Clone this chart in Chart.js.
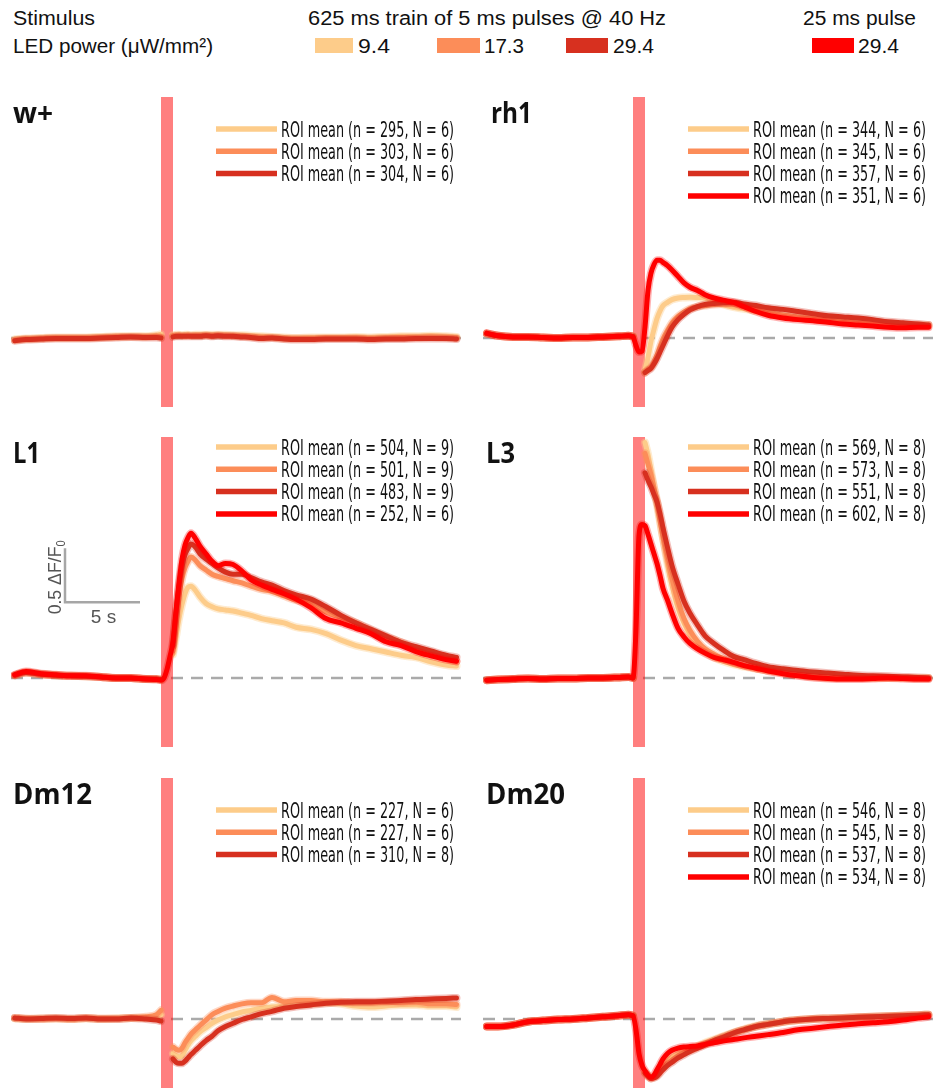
<!DOCTYPE html>
<html>
<head>
<meta charset="utf-8">
<script src="https://cdn.jsdelivr.net/npm/chart.js@4.4.1/dist/chart.umd.min.js"></script>
<style>
  html, body { margin: 0; padding: 0; background: #fff; }
  body { width: 933px; height: 1088px; position: relative; overflow: hidden;
         font-family: "Liberation Sans", Arial, sans-serif; }
  .hd { position: absolute; font-size: 20px; line-height: 20px; color: #111;
        white-space: nowrap; transform-origin: 0 0; }
  .sw { position: absolute; height: 15px; }
  canvas.panel { position: absolute; }
</style>
</head>
<body>

<div class="hd" data-x="13" data-base="25" data-w="82">Stimulus</div>
<div class="hd" data-x="13" data-base="53" data-w="200">LED power (μW/mm²)</div>
<div class="hd" data-x="308" data-base="25" data-w="358">625 ms train of 5 ms pulses @ 40 Hz</div>
<div class="hd" data-x="803" data-base="25" data-w="113">25 ms pulse</div>
<div id="swatches"></div>

<script>
// ---- time axis (s) shared by all traces ----
const TIME_S = [-9.75, -9, -8, -7, -6, -5, -4, -3, -2, -1, -0.3, 0, 0.2, 0.4, 0.6,
  0.8, 1.0, 1.2, 1.4, 1.6, 1.8, 2.0, 2.3, 2.6, 3.0, 3.4, 3.8, 4.3, 4.8, 5.4, 6.0,
  6.7, 7.4, 8.2, 9.0, 10, 11, 12, 13, 14, 15, 16, 17, 18, 19, 19.7];

const STIM_WINDOW_S = [0, 0.8];
const LED_POWER = ['9.4', '17.3', '29.4', '29.4'];
const GAP = [null, null, null];   // train traces are blanked during the stimulus

// ---- w+ ----
const WPLUS_94 = [-0.012, -0.005, 0.0, 0.005, 0.005, 0.005, 0.01, 0.015, 0.015, 0.015, 0.025, 0.035, ...GAP,
  0.025, 0.03, 0.03, 0.025, 0.03, 0.03, 0.025, 0.03, 0.03, 0.03, 0.03, 0.03, 0.03, 0.025, 0.025, 0.02,
  0.015, 0.01, 0.005, 0.0, 0.005, 0.005, 0.005, 0.01, 0.005, 0.01, 0.015, 0.015, 0.02, 0.015, 0.01];
const WPLUS_173 = [-0.02, -0.01, -0.005, 0.0, 0.0, 0.0, 0.005, 0.01, 0.012, 0.01, 0.015, 0.01, ...GAP,
  0.02, 0.02, 0.025, 0.02, 0.02, 0.025, 0.02, 0.02, 0.02, 0.025, 0.02, 0.025, 0.02, 0.02, 0.015, 0.01,
  0.005, 0.005, -0.005, -0.005, -0.005, 0.0, 0.0, 0.0, -0.005, 0.0, 0.005, 0.005, 0.01, 0.005, 0.0];
const WPLUS_294 = [-0.025, -0.015, -0.01, -0.005, -0.005, -0.005, 0.0, 0.005, 0.01, 0.005, 0.005, 0.0, ...GAP,
  0.01, 0.015, 0.015, 0.015, 0.015, 0.015, 0.015, 0.015, 0.015, 0.02, 0.015, 0.02, 0.015, 0.015, 0.01, 0.005,
  -0.005, 0.0, -0.01, -0.015, -0.015, -0.01, -0.01, -0.01, -0.015, -0.01, -0.01, -0.005, -0.005, -0.005, -0.01];
const WPLUS_ROIS = [295, 303, 304];
const WPLUS_FLIES = [6, 6, 6];

// ---- rh1 ----
const RH1_PRE = [0.04, 0.02, 0.01, 0.01, 0.005, 0.0, 0.005, 0.005, 0.01, 0.015, 0.02, 0.015];
const RH1_94 = [...RH1_PRE, ...GAP,
  -0.3, -0.18, -0.03, 0.08, 0.18, 0.25, 0.3, 0.33, 0.355, 0.37, 0.375, 0.378, 0.375, 0.37, 0.34, 0.31,
  0.285, 0.27, 0.25, 0.23, 0.21, 0.19, 0.175, 0.16, 0.15, 0.14, 0.13, 0.12, 0.115, 0.11, 0.11];
const RH1_173 = [...RH1_PRE, ...GAP,
  -0.32, -0.29, -0.27, -0.22, -0.16, -0.08, -0.01, 0.07, 0.14, 0.2, 0.24, 0.27, 0.29, 0.3, 0.31, 0.315,
  0.31, 0.29, 0.26, 0.24, 0.21, 0.195, 0.18, 0.165, 0.15, 0.14, 0.13, 0.125, 0.12, 0.12, 0.12];
const RH1_294 = [...RH1_PRE, ...GAP,
  -0.32, -0.3, -0.28, -0.24, -0.19, -0.13, -0.07, 0.02, 0.1, 0.17, 0.22, 0.26, 0.29, 0.31, 0.32, 0.325,
  0.33, 0.315, 0.3, 0.28, 0.265, 0.245, 0.225, 0.205, 0.195, 0.185, 0.17, 0.15, 0.14, 0.13, 0.12];
const RH1_PULSE = [0.045, 0.02, 0.01, 0.01, 0.005, 0.0, 0.005, 0.005, 0.01, 0.015, 0.02, 0.01, -0.07, -0.13, -0.12,
  0.1, 0.44, 0.6, 0.68, 0.72, 0.72, 0.7, 0.67, 0.63, 0.57, 0.51, 0.47, 0.44, 0.4, 0.37, 0.35,
  0.33, 0.29, 0.245, 0.21, 0.185, 0.17, 0.16, 0.145, 0.13, 0.12, 0.11, 0.1, 0.095, 0.1, 0.1];
const RH1_ROIS = [344, 345, 357, 351];
const RH1_FLIES = [6, 6, 6, 6];

// ---- L1 ----
const L1_PRE = [0.025, 0.05, 0.035, 0.025, 0.02, 0.015, 0.01, 0.0, 0.0, -0.01, -0.01, -0.015];
const L1_94 = [...L1_PRE, ...GAP,
  0.22, 0.38, 0.55, 0.68, 0.78, 0.84, 0.85, 0.81, 0.75, 0.69, 0.66, 0.64, 0.63, 0.62, 0.6, 0.58,
  0.55, 0.53, 0.51, 0.47, 0.45, 0.41, 0.35, 0.3, 0.27, 0.24, 0.21, 0.19, 0.15, 0.12, 0.11];
const L1_173 = [...L1_PRE, ...GAP,
  0.25, 0.5, 0.75, 0.92, 1.02, 1.08, 1.12, 1.09, 1.04, 1.0, 0.96, 0.94, 0.92, 0.9, 0.88, 0.85,
  0.82, 0.8, 0.76, 0.72, 0.69, 0.61, 0.56, 0.51, 0.44, 0.38, 0.33, 0.27, 0.23, 0.18, 0.15];
const L1_294 = [...L1_PRE, ...GAP,
  0.3, 0.6, 0.85, 1.03, 1.14, 1.2, 1.24, 1.21, 1.15, 1.1, 1.06, 1.02, 0.98, 0.96, 0.96, 0.93,
  0.89, 0.86, 0.81, 0.77, 0.73, 0.66, 0.58, 0.51, 0.45, 0.39, 0.33, 0.29, 0.25, 0.21, 0.19];
const L1_PULSE = [0.03, 0.06, 0.04, 0.03, 0.02, 0.02, 0.01, 0.0, 0.0, -0.01, -0.015, -0.02, 0.0, 0.08, 0.2,
  0.34, 0.62, 0.88, 1.1, 1.23, 1.3, 1.34, 1.29, 1.22, 1.15, 1.08, 1.04, 1.06, 1.05, 0.99, 0.91,
  0.86, 0.82, 0.78, 0.73, 0.65, 0.55, 0.51, 0.46, 0.41, 0.335, 0.3, 0.245, 0.205, 0.17, 0.155];
const L1_ROIS = [504, 501, 483, 252];
const L1_FLIES = [9, 9, 9, 6];

// ---- L3 ----
const L3_PRE = [-0.02, -0.015, -0.01, -0.005, -0.01, -0.005, -0.005, 0.0, 0.0, 0.005, 0.01, 0.0];
const L3_94 = [...L3_PRE, ...GAP,
  2.18, 2.07, 1.92, 1.76, 1.6, 1.45, 1.3, 1.06, 0.86, 0.65, 0.51, 0.4, 0.3, 0.24, 0.19, 0.155,
  0.125, 0.105, 0.085, 0.07, 0.055, 0.04, 0.02, 0.005, 0.0, 0.0, 0.0, 0.0, 0.0, 0.0, 0.0];
const L3_173 = [...L3_PRE, ...GAP,
  2.08, 1.98, 1.88, 1.76, 1.64, 1.47, 1.3, 1.1, 0.92, 0.71, 0.55, 0.44, 0.34, 0.27, 0.22, 0.18,
  0.14, 0.115, 0.09, 0.07, 0.045, 0.025, 0.01, 0.0, 0.0, 0.0, 0.0, 0.0, 0.0, -0.005, -0.005];
const L3_294 = [...L3_PRE, ...GAP,
  1.9, 1.83, 1.77, 1.7, 1.63, 1.52, 1.39, 1.21, 1.04, 0.87, 0.71, 0.6, 0.49, 0.39, 0.32, 0.26,
  0.2, 0.17, 0.135, 0.105, 0.085, 0.07, 0.055, 0.045, 0.035, 0.025, 0.02, 0.015, 0.01, 0.005, 0.0];
const L3_PULSE = [...L3_PRE, 0.45, 1.32, 1.42,
  1.41, 1.33, 1.24, 1.15, 1.06, 0.95, 0.83, 0.72, 0.6, 0.46, 0.38, 0.32, 0.27, 0.23, 0.19, 0.17,
  0.145, 0.115, 0.09, 0.065, 0.04, 0.02, 0.005, -0.005, -0.01, -0.01, -0.005, 0.0, -0.005, -0.01, -0.01];
const L3_ROIS = [569, 573, 551, 602];
const L3_FLIES = [8, 8, 8, 8];

// ---- Dm12 ----
const DM12_94 = [0.005, 0.0, 0.005, 0.005, 0.0, 0.005, 0.0, 0.005, 0.01, 0.01, 0.02, 0.04, ...GAP,
  -0.32, -0.34, -0.35, -0.34, -0.29, -0.24, -0.2, -0.16, -0.12, -0.08, -0.04, -0.01, 0.02, 0.04, 0.065, 0.08,
  0.1, 0.11, 0.12, 0.13, 0.14, 0.15, 0.14, 0.12, 0.11, 0.12, 0.13, 0.13, 0.12, 0.12, 0.11];
const DM12_173 = [0.01, 0.005, 0.0, 0.005, 0.0, 0.01, 0.005, 0.005, 0.01, 0.02, 0.04, 0.08, ...GAP,
  -0.26, -0.28, -0.29, -0.27, -0.22, -0.18, -0.14, -0.1, -0.06, -0.01, 0.04, 0.07, 0.1, 0.12, 0.14, 0.15,
  0.15, 0.2, 0.16, 0.17, 0.17, 0.16, 0.16, 0.15, 0.15, 0.155, 0.15, 0.155, 0.14, 0.14, 0.135];
const DM12_294 = [0.01, 0.0, 0.005, 0.01, 0.005, 0.01, 0.0, 0.0, 0.01, 0.0, -0.01, -0.02, ...GAP,
  -0.37, -0.4, -0.41, -0.41, -0.39, -0.36, -0.33, -0.29, -0.25, -0.2, -0.16, -0.11, -0.07, -0.04, -0.005, 0.02,
  0.05, 0.07, 0.1, 0.115, 0.13, 0.145, 0.155, 0.16, 0.16, 0.165, 0.17, 0.18, 0.185, 0.19, 0.195];
const DM12_ROIS = [227, 227, 310];
const DM12_FLIES = [6, 6, 8];

// ---- Dm20 ----
const DM20_PRE = [-0.07, -0.07, -0.055, -0.025, -0.015, -0.005, 0.0, 0.01, 0.02, 0.03, 0.04, 0.03];
const DM20_94 = [...DM20_PRE, ...GAP,
  -0.49, -0.52, -0.54, -0.53, -0.5, -0.46, -0.42, -0.38, -0.35, -0.32, -0.3, -0.28, -0.25, -0.22, -0.19, -0.16,
  -0.125, -0.095, -0.065, -0.045, -0.025, -0.01, 0.0, 0.005, 0.01, 0.015, 0.02, 0.025, 0.03, 0.035, 0.04];
const DM20_173 = [...DM20_PRE, ...GAP,
  -0.5, -0.53, -0.55, -0.54, -0.52, -0.48, -0.45, -0.41, -0.38, -0.34, -0.31, -0.29, -0.26, -0.23, -0.2, -0.165,
  -0.13, -0.1, -0.07, -0.05, -0.025, -0.01, 0.0, 0.005, 0.01, 0.015, 0.02, 0.025, 0.03, 0.035, 0.04];
const DM20_294 = [...DM20_PRE, ...GAP,
  -0.5, -0.53, -0.55, -0.545, -0.53, -0.5, -0.47, -0.43, -0.4, -0.36, -0.33, -0.3, -0.27, -0.24, -0.2, -0.17,
  -0.13, -0.1, -0.07, -0.05, -0.025, -0.01, 0.0, 0.005, 0.01, 0.015, 0.02, 0.025, 0.03, 0.035, 0.04];
const DM20_PULSE = [...DM20_PRE, -0.1, -0.32, -0.43,
  -0.48, -0.52, -0.54, -0.52, -0.47, -0.42, -0.37, -0.32, -0.29, -0.27, -0.26, -0.255, -0.25, -0.235, -0.22, -0.205,
  -0.19, -0.175, -0.16, -0.145, -0.125, -0.1, -0.085, -0.07, -0.055, -0.045, -0.035, -0.025, -0.01, 0.01, 0.02];
const DM20_ROIS = [546, 545, 537, 534];
const DM20_FLIES = [8, 8, 8, 8];

// scale bar: 5 s by 0.5 dF/F0
const SCALE_BAR = [5, 0.5];

// ---- styling ----
const COLORS = ['#fdcc8a', '#fc8d59', '#d7301f', '#ff0000'];
const HALOS = ['rgba(253,204,138,0.4)', 'rgba(252,141,89,0.35)', 'rgba(215,48,31,0.3)', 'rgba(255,0,0,0.3)'];
const X_RANGE = [-10, 20];
const Y_RANGE = [-0.639, 2.231];
const COL_LEFT = [11, 483];
const ROW_TOP = [97, 437, 778];
const PANEL_W = 450, PANEL_H = 310;

const PANELS = [
  { label: 'w+',   col: 0, row: 0, labelX: 2, labelW: 40, legendTop: 32,
    series: [WPLUS_94, WPLUS_173, WPLUS_294], rois: WPLUS_ROIS, flies: WPLUS_FLIES },
  { label: 'rh1',  col: 1, row: 0, labelX: 8, labelW: 41, legendTop: 32,
    series: [RH1_94, RH1_173, RH1_294, RH1_PULSE], rois: RH1_ROIS, flies: RH1_FLIES },
  { label: 'L1',   col: 0, row: 1, labelX: 2, labelW: 27, legendTop: 10, scaleBar: true,
    series: [L1_94, L1_173, L1_294, L1_PULSE], rois: L1_ROIS, flies: L1_FLIES },
  { label: 'L3',   col: 1, row: 1, labelX: 3, labelW: 29, legendTop: 10,
    series: [L3_94, L3_173, L3_294, L3_PULSE], rois: L3_ROIS, flies: L3_FLIES },
  { label: 'Dm12', col: 0, row: 2, labelX: 2, labelW: 79, legendTop: 32,
    series: [DM12_94, DM12_173, DM12_294], rois: DM12_ROIS, flies: DM12_FLIES },
  { label: 'Dm20', col: 1, row: 2, labelX: 3, labelW: 79, legendTop: 32,
    series: [DM20_94, DM20_173, DM20_294, DM20_PULSE], rois: DM20_ROIS, flies: DM20_FLIES }
];

const LEGEND_FONT = '21px "Liberation Sans Narrow", "DejaVu Sans Condensed", "Roboto Condensed", sans-serif';
const LABEL_FONT = '700 28px "Open Sans", "Noto Sans", sans-serif';
const SCALE_FONT = '19px "Liberation Sans", Arial, sans-serif';
const SUB_FONT = '12px "Liberation Sans", Arial, sans-serif';

// --- header ---
document.querySelectorAll('.hd').forEach(el => {
    el.style.left = el.dataset.x + 'px';
    el.style.top = (el.dataset.base - 0.85 * 20) + 'px';
    const w = el.getBoundingClientRect().width;
    el.style.transform = 'scaleX(' + (el.dataset.w / w) + ')';
});

const SWATCH_X = [315, 437, 566, 812];
const SWATCH_W = [38, 43, 42, 42];
const SWATCH_TXT_X = [358, 484, 613, 858];
const SWATCH_TXT_W = [32, 40, 41, 41];
const swHolder = document.getElementById('swatches');
LED_POWER.forEach((p, i) => {
    const sw = document.createElement('div');
    sw.className = 'sw';
    sw.style.cssText = 'left:' + SWATCH_X[i] + 'px;top:38px;width:' + SWATCH_W[i] + 'px;background:' + COLORS[i];
    swHolder.appendChild(sw);
    const t = document.createElement('div');
    t.className = 'hd';
    t.textContent = p;
    t.style.left = SWATCH_TXT_X[i] + 'px';
    t.style.top = (53 - 0.85 * 20) + 'px';
    swHolder.appendChild(t);
    const w = t.getBoundingClientRect().width;
    t.style.transform = 'scaleX(' + (SWATCH_TXT_W[i] / w) + ')';
});

// --- text helpers ---
function fitText(ctx, text, x, y, width) {
    const m = ctx.measureText(text).width;
    ctx.save();
    ctx.translate(x, y);
    ctx.scale(width / m, 1);
    ctx.fillText(text, 0, 0);
    ctx.restore();
}

// --- per-panel decoration: baseline, stimulus bar, legend, label, scale bar ---
function decor(panel) {
    return {
        id: 'decor',
        beforeDatasetsDraw(chart) {
            const { ctx, chartArea: a, scales: { x, y } } = chart;
            const y0 = y.getPixelForValue(0);
            ctx.save();
            ctx.strokeStyle = '#aaaaaa';
            ctx.lineWidth = 2.5;
            ctx.setLineDash([12, 8]);
            ctx.beginPath();
            ctx.moveTo(a.left, y0);
            ctx.lineTo(a.right, y0);
            ctx.stroke();
            ctx.setLineDash([]);
            const xs = x.getPixelForValue(STIM_WINDOW_S[0]);
            const xe = x.getPixelForValue(STIM_WINDOW_S[1]);
            ctx.fillStyle = 'rgba(255,0,0,0.5)';
            ctx.fillRect(xs, a.top, xe - xs, a.bottom - a.top);
            ctx.restore();
        },
        afterDatasetsDraw(chart) {
            const { ctx, scales: { x, y } } = chart;
            ctx.save();

            // label
            ctx.fillStyle = '#111';
            ctx.font = LABEL_FONT;
            ctx.textBaseline = 'alphabetic';
            fitText(ctx, panel.label, panel.labelX, 26, panel.labelW);

            // legend
            ctx.font = LEGEND_FONT;
            const ref = 'ROI mean (n = 295, N = 6)';
            const sx = 173 / ctx.measureText(ref).width;
            panel.series.forEach((s, i) => {
                const ly = panel.legendTop + i * 22.3;
                ctx.strokeStyle = COLORS[i];
                ctx.lineWidth = 5.5;
                ctx.beginPath();
                ctx.moveTo(205, ly);
                ctx.lineTo(266, ly);
                ctx.stroke();
                const txt = 'ROI mean (n = ' + panel.rois[i] + ', N = ' + panel.flies[i] + ')';
                ctx.fillStyle = '#111';
                ctx.save();
                ctx.translate(270, ly + 7.5);
                ctx.scale(sx, 1);
                ctx.fillText(txt, 0, 0);
                ctx.restore();
            });

            // scale bar
            if (panel.scaleBar) {
                const t0 = -6.4, v0 = 0.7;
                const px0 = x.getPixelForValue(t0), py0 = y.getPixelForValue(v0);
                const px1 = x.getPixelForValue(t0 + SCALE_BAR[0]);
                const py1 = y.getPixelForValue(v0 + SCALE_BAR[1]);
                ctx.strokeStyle = '#a6a6a6';
                ctx.lineWidth = 2.5;
                ctx.beginPath();
                ctx.moveTo(px0, py1);
                ctx.lineTo(px0, py0);
                ctx.lineTo(px1, py0);
                ctx.stroke();

                ctx.fillStyle = '#555';
                ctx.font = SCALE_FONT;
                ctx.textAlign = 'center';
                ctx.fillText(SCALE_BAR[0] + ' s', (px0 + px1) / 2 + 1, py0 + 21);

                // rotated dF/F0 label
                ctx.textAlign = 'left';
                const main = SCALE_BAR[1] + ' ΔF/F';
                const wMain = ctx.measureText(main).width;
                ctx.font = SUB_FONT;
                const wSub = ctx.measureText('0').width;
                const total = wMain + wSub;
                ctx.save();
                ctx.translate(px0 - 4, (py0 + py1) / 2 + 2);
                ctx.rotate(-Math.PI / 2);
                ctx.scale(74 / total, 1);
                ctx.font = SCALE_FONT;
                ctx.fillText(main, -total / 2, 0);
                ctx.font = SUB_FONT;
                ctx.fillText('0', -total / 2 + wMain, 4);
                ctx.restore();
            }
            ctx.restore();
        }
    };
}

// --- build panels ---
PANELS.forEach(panel => {
    const canvas = document.createElement('canvas');
    canvas.className = 'panel';
    canvas.width = PANEL_W;
    canvas.height = PANEL_H;
    canvas.style.left = COL_LEFT[panel.col] + 'px';
    canvas.style.top = ROW_TOP[panel.row] + 'px';
    canvas.style.width = PANEL_W + 'px';
    canvas.style.height = PANEL_H + 'px';
    document.body.appendChild(canvas);

    const n = panel.series.length;
    const datasets = [];
    panel.series.forEach((vals, i) => {
        const pts = TIME_S.map((t, k) => ({ x: t, y: vals[k] }));
        const common = {
            data: pts,
            pointRadius: 0,
            cubicInterpolationMode: 'monotone',
            borderCapStyle: 'round',
            borderJoinStyle: 'round',
            spanGaps: false,
            fill: false
        };
        // SEM-like halo under each mean trace
        datasets.push(Object.assign({}, common, { borderColor: HALOS[i], borderWidth: 8, order: 2 * (n - i) + 1 }));
        datasets.push(Object.assign({}, common, { borderColor: COLORS[i], borderWidth: 5, order: 2 * (n - i) }));
    });

    new Chart(canvas.getContext('2d'), {
        type: 'line',
        data: { datasets },
        options: {
            responsive: false,
            animation: false,
            devicePixelRatio: 1,
            events: [],
            layout: { padding: 0 },
            scales: {
                x: { type: 'linear', min: X_RANGE[0], max: X_RANGE[1], display: false },
                y: { type: 'linear', min: Y_RANGE[0], max: Y_RANGE[1], display: false }
            },
            plugins: { legend: { display: false }, tooltip: { enabled: false } }
        },
        plugins: [decor(panel)]
    });
});
</script>
</body>
</html>
